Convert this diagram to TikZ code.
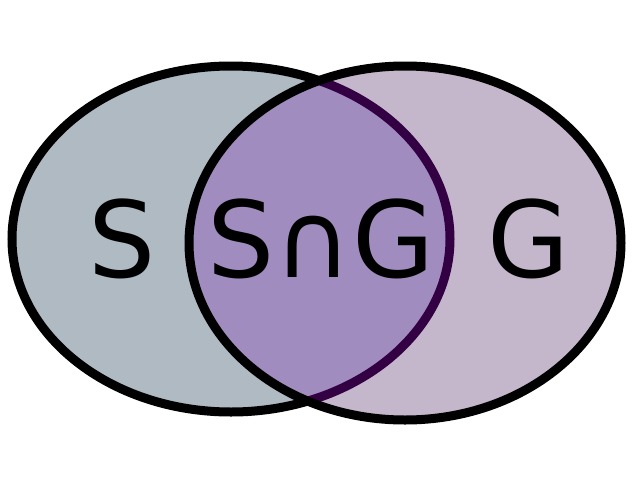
\documentclass[tikz,border=0pt]{standalone}
\usepackage{fontspec}
\setmainfont{DejaVu Sans}
\usetikzlibrary{positioning}
\definecolor{setgray}{HTML}{AFBAC3}
\definecolor{setlilac}{HTML}{C4B6CB}
\definecolor{setmix}{HTML}{A08CBE}
\definecolor{setdark}{HTML}{330044}
\tikzset{
  setline/.style={line width=9pt},
  setlabel/.style={font=\fontsize{106}{110}\selectfont, anchor=base, inner sep=0pt}
}
\newcommand{\leftset}{(231,239) ellipse [x radius=219, y radius=173]}
\newcommand{\rightset}{(405,243) ellipse [x radius=216, y radius=177]}
\begin{document}
\begin{tikzpicture}[x=1pt, y=-1pt]
  \useasboundingbox (0,0) rectangle (640,480);
  % left set
  \fill[setgray] \leftset;
  \draw[setline] \leftset;
  % right set and overlap
  \fill[setlilac] \rightset;
  \begin{scope}
    \clip \rightset;
    \fill[setmix] \leftset;
    \draw[setline, setdark] \leftset;
  \end{scope}
  \draw[setline] \rightset;
  % labels
  \node[setlabel] (s) at (122,277) {S};
  \node[setlabel] (sg) at (321,277) {S∩G};
  \node[setlabel] (g) at (529,277) {G};
\end{tikzpicture}
\end{document}
